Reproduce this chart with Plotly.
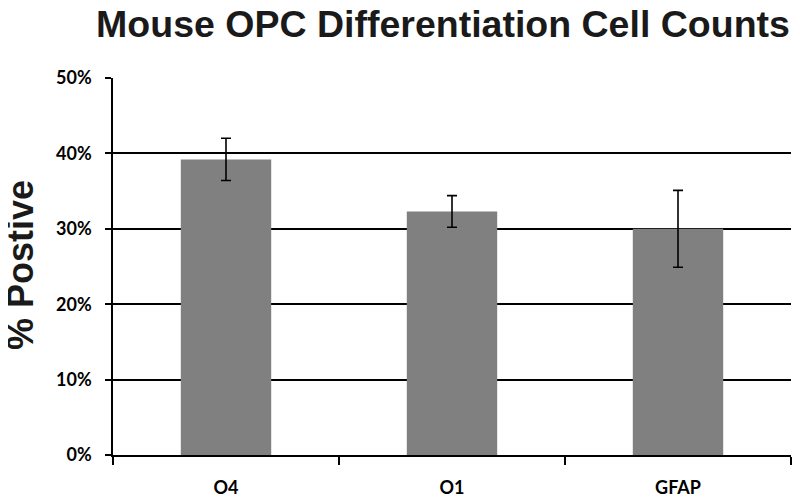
import plotly.graph_objects as go

categories = ["O4", "O1", "GFAP"]
values = [0.392, 0.323, 0.300]
errors = [0.028, 0.021, 0.051]
y_ticks = [0, 0.1, 0.2, 0.3, 0.4, 0.5]

# page body has an 8px default margin, so the figure is 8px smaller than the window
W, H = 792, 495
L, R, T, B = 105, 9, 70, 48
plot_w = W - L - R
plot_h = H - T - B

fig = go.Figure()
fig.add_trace(go.Bar(
    x=categories, y=values,
    marker=dict(color="#808080", line=dict(width=0)),
    width=0.4,
    error_y=dict(type="data", array=errors, visible=True, color="black", thickness=1.6, width=5),
))

fig.update_layout(
    width=W, height=H,
    margin=dict(l=L, r=R, t=T, b=B),
    plot_bgcolor="white", paper_bgcolor="white",
    showlegend=False,
    title=dict(text="<b>Mouse OPC Differentiation Cell Counts</b>",
               font=dict(family="Liberation Sans, Arial, sans-serif", size=37.5, color="#1a1a1a"),
               x=435/W, xanchor="center", y=1 - 15.5/H, yanchor="middle"),
)
fig.add_annotation(
    text="<b>% Postive</b>", textangle=-90,
    xref="paper", yref="paper", x=(12 - L) / plot_w, y=(T + plot_h - 257) / plot_h,
    xanchor="center", yanchor="middle", showarrow=False,
    font=dict(family="Liberation Sans, Arial, sans-serif", size=36, color="#1a1a1a"),
)
fig.update_xaxes(
    automargin=False,
    showline=True, linecolor="black", linewidth=1.5,
    ticks="outside", tickson="boundaries", ticklen=8, tickcolor="black", tickwidth=1.5,
    tickfont=dict(family="Lato, sans-serif", size=18, color="black", weight="bold"),
    ticklabelstandoff=16,
    showgrid=False,
)
fig.update_yaxes(
    automargin=False,
    range=[0, 0.5], tickvals=y_ticks, tickformat=".0%",
    showline=True, linecolor="black", linewidth=1.5,
    ticks="outside", ticklen=6, tickcolor="black", tickwidth=1.5,
    tickfont=dict(family="Lato, sans-serif", size=18, color="black", weight="bold"),
    ticklabelstandoff=10,
    showgrid=True, gridcolor="black", gridwidth=1.6,
    zeroline=False,
)

fig.write_html("out.html")
